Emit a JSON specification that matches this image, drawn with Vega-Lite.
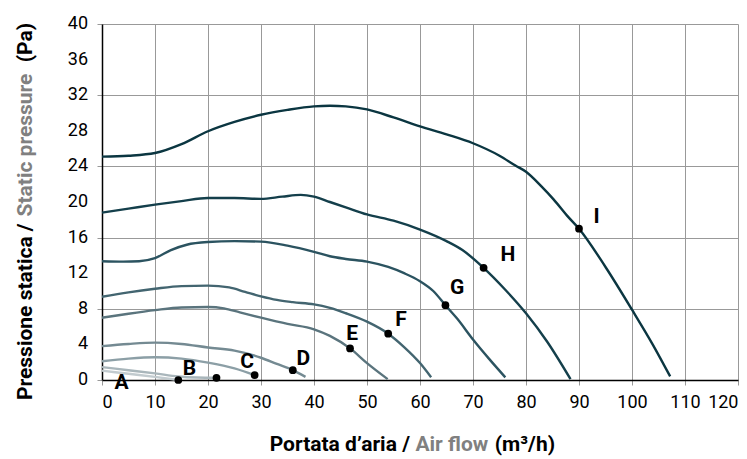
{
  "$schema": "https://vega.github.io/schema/vega-lite/v6.json",
  "width": 636,
  "height": 356,
  "autosize": {"type": "none"},
  "padding": {"left": 102, "top": 24, "right": 9, "bottom": 79},
  "background": "white",
  "config": {"view": {"stroke": null}, "font": "Roboto, sans-serif", "axis": {"labelOverlap": false}},
  "datasets": {
    "curves": [
      {"s":"I","x":0,"y":25.1},{"s":"I","x":5,"y":25.2},{"s":"I","x":10,"y":25.5},{"s":"I","x":15,"y":26.5},{"s":"I","x":20,"y":27.95},{"s":"I","x":25,"y":29.0},{"s":"I","x":30,"y":29.8},{"s":"I","x":35,"y":30.35},{"s":"I","x":40,"y":30.75},{"s":"I","x":43,"y":30.82},{"s":"I","x":46,"y":30.75},{"s":"I","x":50,"y":30.4},{"s":"I","x":55,"y":29.5},{"s":"I","x":60,"y":28.5},{"s":"I","x":65,"y":27.6},{"s":"I","x":70,"y":26.6},{"s":"I","x":75,"y":25.2},{"s":"I","x":78,"y":24.1},{"s":"I","x":80,"y":23.4},{"s":"I","x":83,"y":21.7},{"s":"I","x":85.2,"y":20.3},{"s":"I","x":88,"y":18.3},{"s":"I","x":90,"y":17.0},{"s":"I","x":95,"y":12.7},{"s":"I","x":100,"y":7.9},{"s":"I","x":104,"y":3.9},{"s":"I","x":107.2,"y":0.4},
      {"s":"H","x":0,"y":18.8},{"s":"H","x":5,"y":19.25},{"s":"H","x":10,"y":19.7},{"s":"H","x":15,"y":20.1},{"s":"H","x":20,"y":20.45},{"s":"H","x":25,"y":20.45},{"s":"H","x":30,"y":20.35},{"s":"H","x":34,"y":20.6},{"s":"H","x":37.5,"y":20.8},{"s":"H","x":40,"y":20.6},{"s":"H","x":43,"y":20.0},{"s":"H","x":46,"y":19.4},{"s":"H","x":50,"y":18.6},{"s":"H","x":55,"y":17.9},{"s":"H","x":60,"y":16.9},{"s":"H","x":65,"y":15.6},{"s":"H","x":68,"y":14.6},{"s":"H","x":72,"y":12.6},{"s":"H","x":76,"y":10.2},{"s":"H","x":80,"y":7.5},{"s":"H","x":84,"y":4.3},{"s":"H","x":88.4,"y":0.1},
      {"s":"G","x":0,"y":13.35},{"s":"G","x":4,"y":13.3},{"s":"G","x":7,"y":13.35},{"s":"G","x":10,"y":13.7},{"s":"G","x":13,"y":14.6},{"s":"G","x":16,"y":15.2},{"s":"G","x":20,"y":15.5},{"s":"G","x":25,"y":15.6},{"s":"G","x":30,"y":15.55},{"s":"G","x":35,"y":15.1},{"s":"G","x":40,"y":14.4},{"s":"G","x":43,"y":13.9},{"s":"G","x":46,"y":13.6},{"s":"G","x":50,"y":13.3},{"s":"G","x":54,"y":12.7},{"s":"G","x":57,"y":12.0},{"s":"G","x":60,"y":11.1},{"s":"G","x":62.5,"y":10.0},{"s":"G","x":64.8,"y":8.4},{"s":"G","x":67,"y":6.9},{"s":"G","x":70,"y":4.55},{"s":"G","x":73,"y":2.4},{"s":"G","x":76.1,"y":0.3},
      {"s":"F","x":0,"y":9.35},{"s":"F","x":5,"y":9.85},{"s":"F","x":10,"y":10.25},{"s":"F","x":15,"y":10.55},{"s":"F","x":20,"y":10.6},{"s":"F","x":24,"y":10.4},{"s":"F","x":27,"y":9.9},{"s":"F","x":30,"y":9.4},{"s":"F","x":33,"y":9.0},{"s":"F","x":36,"y":8.75},{"s":"F","x":40,"y":8.5},{"s":"F","x":43,"y":8.1},{"s":"F","x":46,"y":7.5},{"s":"F","x":50,"y":6.55},{"s":"F","x":54,"y":5.2},{"s":"F","x":57,"y":3.7},{"s":"F","x":60,"y":1.9},{"s":"F","x":62.1,"y":0.3},
      {"s":"E","x":0,"y":7.0},{"s":"E","x":5,"y":7.45},{"s":"E","x":10,"y":7.85},{"s":"E","x":15,"y":8.15},{"s":"E","x":20,"y":8.2},{"s":"E","x":23,"y":8.05},{"s":"E","x":26,"y":7.6},{"s":"E","x":30,"y":7.0},{"s":"E","x":35,"y":6.3},{"s":"E","x":40,"y":5.7},{"s":"E","x":43,"y":4.95},{"s":"E","x":46.8,"y":3.55},{"s":"E","x":50,"y":1.9},{"s":"E","x":53.9,"y":0.1},
      {"s":"D","x":0,"y":3.8},{"s":"D","x":5,"y":4.05},{"s":"D","x":10,"y":4.2},{"s":"D","x":15,"y":4.05},{"s":"D","x":20,"y":3.65},{"s":"D","x":25,"y":3.3},{"s":"D","x":30,"y":2.5},{"s":"D","x":33,"y":1.8},{"s":"D","x":36,"y":1.1},{"s":"D","x":38.4,"y":0.35},
      {"s":"C","x":0,"y":2.1},{"s":"C","x":5,"y":2.4},{"s":"C","x":10,"y":2.55},{"s":"C","x":15,"y":2.4},{"s":"C","x":20,"y":1.95},{"s":"C","x":25,"y":1.3},{"s":"C","x":28.8,"y":0.55},
      {"s":"B","x":0,"y":1.45},{"s":"B","x":5,"y":1.1},{"s":"B","x":10,"y":0.75},{"s":"B","x":14.4,"y":0.4},{"s":"B","x":18,"y":0.28},{"s":"B","x":21.6,"y":0.25},
      {"s":"A","x":0,"y":1.05},{"s":"A","x":5,"y":0.7},{"s":"A","x":10,"y":0.35},{"s":"A","x":14.4,"y":0.0}
    ],
    "points": [
      {"s":"A","x":14.4,"y":0.0},{"s":"B","x":21.6,"y":0.25},{"s":"C","x":28.8,"y":0.55},{"s":"D","x":36,"y":1.1},{"s":"E","x":46.8,"y":3.55},{"s":"F","x":54,"y":5.2},{"s":"G","x":64.8,"y":8.4},{"s":"H","x":72,"y":12.6},{"s":"I","x":90,"y":17.0}
    ],
    "labels": [
      {"label":"A","x":3.7,"y":-0.3},{"label":"B","x":16.5,"y":1.2},{"label":"C","x":27.4,"y":2.0},{"label":"D","x":38.0,"y":2.36},{"label":"E","x":47.2,"y":5.2},{"label":"F","x":56.4,"y":6.7},{"label":"G","x":67.0,"y":10.3},{"label":"H","x":76.6,"y":14.0},{"label":"I","x":93.3,"y":18.3}
    ],
    "yticks": [
      {"v":0},{"v":4},{"v":8},{"v":12},{"v":16},{"v":20},{"v":24},{"v":28},{"v":32},{"v":36},{"v":40}
    ]
  },
  "layer": [
    {
      "data": {"name": "curves"},
      "mark": {"type": "line", "interpolate": "monotone", "strokeWidth": 2.4},
      "encoding": {
        "x": {"field": "x", "type": "quantitative",
          "scale": {"domain": [0, 120], "nice": false},
          "axis": {"values": [0,10,20,30,40,50,60,70,80,90,100,110,120], "title": null, "grid": true, "gridColor": "#999999", "gridWidth": 1, "gridOpacity": 1, "domainColor": "#000000", "domainWidth": 1.5, "tickColor": "#999999", "tickSize": 5, "labelFontSize": 18, "labelColor": "#000000", "labelPadding": 8, "labelOverlap": false, "labelFont": "Roboto, sans-serif"}},
        "y": {"field": "y", "type": "quantitative",
          "scale": {"domain": [0, 40], "nice": false},
          "axis": {"values": [0,4,8,12,16,20,24,28,32,36,40], "title": null, "grid": true, "gridColor": "#999999", "gridWidth": 1, "gridOpacity": 1, "domainColor": "#000000", "domainWidth": 1.5, "tickColor": "#999999", "tickSize": 5, "labels": false}},
        "color": {"field": "s", "type": "nominal",
          "scale": {"domain": ["A","B","C","D","E","F","G","H","I"], "range": ["#c2cbcf","#a9b6bb","#8c9fa6","#748a92","#5a747d","#436570","#2b5360","#143f4b","#0b3641"]},
          "legend": null}
      }
    },
    {
      "data": {"name": "yticks"},
      "mark": {"type": "text", "align": "right", "baseline": "middle", "dx": -14, "fontSize": 18, "color": "#000000", "font": "Roboto, sans-serif"},
      "encoding": {
        "x": {"datum": 0},
        "y": {"field": "v", "type": "quantitative"},
        "text": {"field": "v", "type": "quantitative"}
      }
    },
    {
      "data": {"name": "points"},
      "mark": {"type": "point", "filled": true, "color": "#000000", "size": 60, "opacity": 1},
      "encoding": {
        "x": {"field": "x", "type": "quantitative"},
        "y": {"field": "y", "type": "quantitative"}
      }
    },
    {
      "data": {"name": "labels"},
      "mark": {"type": "text", "fontWeight": "bold", "fontSize": 21, "color": "#000000", "align": "center", "baseline": "middle", "font": "Roboto, sans-serif"},
      "encoding": {
        "x": {"field": "x", "type": "quantitative"},
        "y": {"field": "y", "type": "quantitative"},
        "text": {"field": "label"}
      }
    },
    {
      "data": {"values": [{}]},
      "mark": {"type": "text", "text": "Portata d’aria /", "align": "right", "baseline": "alphabetic", "fontWeight": "bold", "fontSize": 21, "color": "#000000", "font": "Roboto, sans-serif"},
      "encoding": {"x": {"datum": 58.1}, "y": {"datum": -8.0}}
    },
    {
      "data": {"values": [{}]},
      "mark": {"type": "text", "text": "Air flow", "align": "center", "baseline": "alphabetic", "fontWeight": "bold", "fontSize": 21, "color": "#808080", "font": "Roboto, sans-serif"},
      "encoding": {"x": {"datum": 66.0}, "y": {"datum": -8.0}}
    },
    {
      "data": {"values": [{}]},
      "mark": {"type": "text", "text": "(m³/h)", "align": "left", "baseline": "alphabetic", "fontWeight": "bold", "fontSize": 21, "color": "#000000", "font": "Roboto, sans-serif"},
      "encoding": {"x": {"datum": 74.1}, "y": {"datum": -8.0}}
    },
    {
      "data": {"values": [{}]},
      "mark": {"type": "text", "text": "Pressione statica /", "angle": 270, "align": "right", "baseline": "alphabetic", "fontWeight": "bold", "fontSize": 21, "color": "#000000", "font": "Roboto, sans-serif"},
      "encoding": {"x": {"datum": -13.3}, "y": {"datum": 17.6}}
    },
    {
      "data": {"values": [{}]},
      "mark": {"type": "text", "text": "Static pressure", "angle": 270, "align": "center", "baseline": "alphabetic", "fontWeight": "bold", "fontSize": 21, "color": "#808080", "font": "Roboto, sans-serif"},
      "encoding": {"x": {"datum": -13.3}, "y": {"datum": 26.4}}
    },
    {
      "data": {"values": [{}]},
      "mark": {"type": "text", "text": "(Pa)", "angle": 270, "align": "left", "baseline": "alphabetic", "fontWeight": "bold", "fontSize": 21, "color": "#000000", "font": "Roboto, sans-serif"},
      "encoding": {"x": {"datum": -13.3}, "y": {"datum": 35.7}}
    }
  ]
}
